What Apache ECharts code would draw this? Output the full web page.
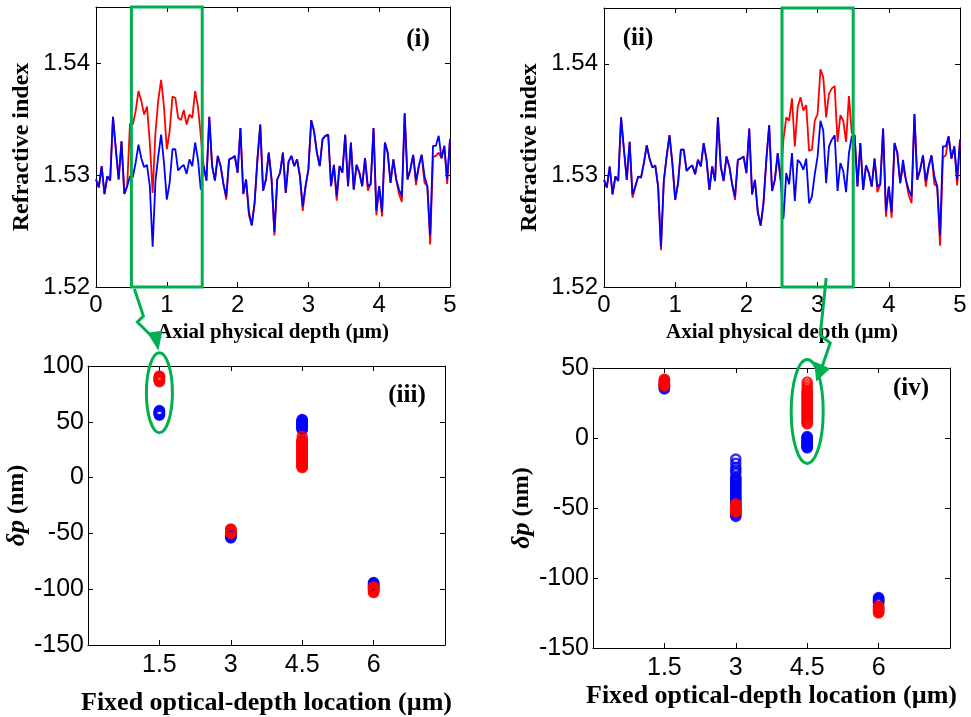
<!DOCTYPE html>
<html><head><meta charset="utf-8">
<script src="https://cdn.jsdelivr.net/npm/echarts@6/dist/echarts.min.js"></script>
<style>html,body{margin:0;padding:0;background:#fff}#c{width:971px;height:717px}</style>
</head><body><div id="c"></div>
<script>
// ---------- DATA ----------
const depthStep = 0.04; // axial depth spacing of samples (µm)
// shared base refractive-index profile (blue curve, k = 0..125)
const baseProfile = [
1.5296,1.5289,1.5308,1.5283,1.5299,1.5295,1.5352,1.5323,1.5296,1.5330,
1.5283,1.5290,1.5299,1.5298,1.5311,1.5327,1.5315,1.5307,1.5309,1.5290,
1.5236,1.5295,1.5317,1.5336,1.5311,1.5278,1.5293,1.5323,1.5323,1.5304,
1.5307,1.5309,1.5301,1.5314,1.5308,1.5329,1.5314,1.5287,1.5308,1.5295,
1.5352,1.5308,1.5295,1.5317,1.5308,1.5292,1.5281,1.5314,1.5315,1.5317,
1.5302,1.5342,1.5283,1.5296,1.5267,1.5255,1.5275,1.5314,1.5345,1.5286,
1.5296,1.5320,1.5296,1.5249,1.5296,1.5302,1.5320,1.5284,1.5312,1.5317,
1.5308,1.5314,1.5299,1.5272,1.5290,1.5305,1.5349,1.5339,1.5320,1.5308,
1.5332,1.5335,1.5336,1.5290,1.5309,1.5281,1.5308,1.5302,1.5336,1.5290,
1.5329,1.5287,1.5309,1.5302,1.5290,1.5315,1.5290,1.5292,1.5342,1.5268,
1.5290,1.5267,1.5329,1.5320,1.5293,1.5314,1.5296,1.5287,1.5281,1.5355,
1.5296,1.5305,1.5318,1.5295,1.5308,1.5318,1.5299,1.5290,1.5246,1.5326,
1.5326,1.5335,1.5315,1.5326,1.5296,1.5332];
// panel (i): red curve inside window, samples k = 12..37
const redIStart = 12;
const redIWindow = [1.5346,1.5345,1.5357,1.5375,1.5366,1.5354,1.5361,1.5329,1.5284,1.5338,
1.5367,1.5385,1.5361,1.5323,1.5339,1.5370,1.5369,1.5351,1.5349,1.5358,1.5345,1.5354,1.5351,1.5375,1.5361,1.5335];
// panel (i): red deviations outside window [k, value]
const redIDips = [[46,1.5278],[54,1.5264],[63,1.5246],[73,1.5268],[85,1.5277],[96,1.5286],[99,1.5264],[101,1.5263],
[107,1.5283],[108,1.5276],[113,1.5291],[116,1.5293],[118,1.5238],[119,1.5316],[120,1.5317],[121,1.5320],[124,1.5292]];
// panel (ii): window samples k = 63..87
const winIIStart = 63;
const blueIIWindow = [1.5261,1.5302,1.5292,1.5320,1.5277,1.5314,1.5311,1.5305,1.5315,1.5275,1.5281,1.5301,1.5317,
1.5349,1.5340,1.5293,1.5326,1.5332,1.5336,1.5286,1.5311,1.5304,1.5285,1.5320,1.5335];
const redIIWindow = [1.5332,1.5352,1.5349,1.5369,1.5326,1.5361,1.5370,1.5358,1.5363,1.5322,1.5323,1.5349,1.5355,
1.5395,1.5388,1.5352,1.5373,1.5378,1.5380,1.5330,1.5354,1.5349,1.5330,1.5371,1.5338];
const redIIDips = [[10,1.5280],[20,1.5233],[46,1.5278],[96,1.5285],[99,1.5263],[101,1.5262],[105,1.5308],[107,1.5282],
[108,1.5275],[113,1.5290],[116,1.5292],[118,1.5237],[119,1.5316],[120,1.5318],[124,1.5291]];

// bottom panels: fixed optical-depth locations and δp values (nm)
const locations = [1.5, 3, 4.5, 6];
const iiiBlue = [[60,59.5,59,58.5,58,57.5,57,56.5,56],[-50,-50.5,-51,-51.5,-52,-52.5,-53,-53.5,-54],
 [52,51.5,51,50.5,50,49.5,49,48.5,48,47.5,47,46.5,46,45.5,45,44.5,44,43.5,43],
 [-94,-94.5,-95,-95.5,-96,-96.5,-97,-97.5,-98,-98.5,-99]];
const iiiRed = [[91,90.5,90,89.5,89,88.5,88,87.5,87,86.5,86],[-46,-46.5,-47,-47.5,-48,-48.5,-49,-49.5,-50],
 [37,34,33.5,33,32.5,32,31.5,31,30.5,30,29.5,29,28.5,28,27.5,27,26.5,26,25.5,25,24.5,24,23.5,23,22.5,22,21.5,21,
  20.5,20,19.5,19,18.5,18,17.5,17,16.5,16,15.5,15,14.5,14,13.5,13,12.5,12,11.5,11,10.5,10,9.5,9],
 [-98,-98.5,-99,-99.5,-100,-100.5,-101,-101.5,-102,-102.5,-103]];
const ivBlue = [[38,37.5,37,36.5,36,35.5,35],
 [-15,-18,-21,-23,-25,-28,-29,-30,-31,-32,-33,-34,-35,-36,-37,-38,-39,-40,-41,-42,-43,-44,-45,-46,-47,-48,-49,-50,-51,-52,-53,-54,-55,-56],
 [1,0.5,0,-0.5,-1,-1.5,-2,-2.5,-3,-3.5,-4,-4.5,-5,-5.5,-6,-6.5,-7],[-114,-114.5,-115,-115.5,-116,-116.5,-117,-117.5,-118]];
const ivRed = [[42,41.5,41,40.5,40,39.5,39,38.5,38,37.5,37],[-47,-47.5,-48,-48.5,-49,-49.5,-50,-50.5,-51,-51.5,-52,-52.5,-53],
 [40,38,36,34,33,32,31,30,29,28,27,26,25,24,23,22,21,20,19,18,17,16,15,14,13,12,11,10],
 [-120,-120.5,-121,-121.5,-122,-122.5,-123,-123.5,-124,-124.5,-125]];

const topXTicks = [0,1,2,3,4,5];
const riTicks = [1.52,1.53,1.54];

// ---------- BUILD ----------
function withWindow(base, start, win, dips){
  const out = base.slice();
  win.forEach((v,i)=>{ out[start+i] = v; });
  (dips||[]).forEach(([k,v])=>{ out[k] = v; });
  return out;
}
const blueI = baseProfile;
const redI = withWindow(baseProfile, redIStart, redIWindow, redIDips);
const blueII = withWindow(baseProfile, winIIStart, blueIIWindow, []);
const redII = withWindow(baseProfile, winIIStart, redIIWindow, redIIDips);
const toPairs = arr => arr.map((v,k)=>[+(k*depthStep).toFixed(2), v]);
function scatterPairs(groups){
  const out=[]; groups.forEach((g,i)=>g.forEach(v=>out.push([locations[i], v]))); return out;
}

const RED='#ff0000', BLUE='#0000ff', GREEN='#00b050';
const SANS="'Liberation Sans', Arial, sans-serif";
const NARROW="'Liberation Sans Narrow','Liberation Sans', Arial, sans-serif";
const SERIF="'Liberation Serif','Times New Roman', serif";

const grids = [
  {left:96, top:7, width:354, height:280},
  {left:604, top:8, width:356, height:279},
  {left:88, top:366, width:357, height:279},
  {left:593, top:368, width:357, height:280}
];

const xAxes=[], yAxes=[];
function addAxes(gi, xc, yc){
  const line={show:true,onZero:false,lineStyle:{color:'#000',width:1}};
  const tick={show:true,inside:true,length:5,lineStyle:{color:'#000',width:1}};
  xAxes.push({gridIndex:gi,type:'value',position:'bottom',min:xc.min,max:xc.max,interval:xc.interval,
    axisLine:line,axisTick:tick,splitLine:{show:false},
    axisLabel:Object.assign({color:'#000',fontFamily:xc.font,fontSize:xc.size,margin:xc.margin,
      showMinLabel:xc.showMin,showMaxLabel:xc.showMax},xc.fmt?{formatter:xc.fmt}:{}),
    name:xc.name,nameLocation:'middle',nameGap:xc.nameGap,
    nameTextStyle:{color:'#000',fontFamily:SERIF,fontWeight:'bold',fontSize:xc.nameSize}});
  xAxes.push({gridIndex:gi,type:'value',position:'top',min:xc.min,max:xc.max,interval:xc.interval,
    axisLine:line,axisTick:tick,splitLine:{show:false},axisLabel:{show:false}});
  yAxes.push({gridIndex:gi,type:'value',position:'left',min:yc.min,max:yc.max,interval:yc.interval,
    axisLine:line,axisTick:tick,splitLine:{show:false},
    axisLabel:Object.assign({color:'#000',fontFamily:yc.font,fontSize:yc.size,margin:yc.margin,
      showMinLabel:true,showMaxLabel:yc.showMax},yc.fmt?{formatter:yc.fmt}:{}),
    name:yc.name,nameLocation:'middle',nameGap:yc.nameGap,nameRotate:90,
    nameTextStyle:Object.assign({color:'#000',fontFamily:SERIF,fontWeight:'bold',fontSize:yc.nameSize},yc.rich?{rich:yc.rich}:{})});
  yAxes.push({gridIndex:gi,type:'value',position:'right',min:yc.min,max:yc.max,interval:yc.interval,
    axisLine:line,axisTick:tick,splitLine:{show:false},axisLabel:{show:false}});
}
const riFmt = v => { const r = Math.round(v*100)/100; return riTicks.some(t=>Math.abs(t-r)<1e-9) && Math.abs(v-r)<1e-9 ? r.toFixed(2) : ''; };
const topX = {min:topXTicks[0],max:topXTicks[topXTicks.length-1],interval:1,font:SANS,size:24,margin:6,showMin:true,showMax:true,
  name:'Axial physical depth (µm)',nameGap:35,nameSize:21};
const topY = {min:1.52,max:1.545,interval:0.01,font:SANS,size:24,margin:6,showMax:false,fmt:riFmt,
  name:'Refractive index',nameGap:62,nameSize:24};
addAxes(0, topX, topY);
addAxes(1, topX, topY);
const dpRich = {a:{fontFamily:SERIF,fontWeight:'bold',fontStyle:'italic',fontSize:26,color:'#000'},
                b:{fontFamily:SERIF,fontWeight:'bold',fontSize:24,color:'#000'}};
addAxes(2, {min:0,max:7.5,interval:1.5,font:NARROW,size:25,margin:8,showMin:false,showMax:false,
  name:'Fixed optical-depth location (µm)',nameGap:45,nameSize:26},
  {min:-150,max:100,interval:50,font:NARROW,size:25,margin:4,showMax:true,
  name:'{a|δp} {b|(nm)}',nameGap:40,nameSize:24,rich:dpRich});
addAxes(3, {min:0,max:7.5,interval:1.5,font:NARROW,size:25,margin:8,showMin:false,showMax:false,
  name:'Fixed optical-depth location (µm)',nameGap:35,nameSize:26},
  {min:-150,max:50,interval:50,font:NARROW,size:25,margin:4,showMax:true,
  name:'{a|δp} {b|(nm)}',nameGap:40,nameSize:24,rich:dpRich});

function lineSeries(gi, data, color){
  return {type:'line',xAxisIndex:gi*2,yAxisIndex:gi*2,data:toPairs(data),showSymbol:false,symbol:'none',
    lineStyle:{color,width:1.8},clip:true,animation:false};
}
function scatterSeries(gi, groups, color){
  return {type:'scatter',xAxisIndex:gi*2,yAxisIndex:gi*2,data:scatterPairs(groups),symbol:'circle',symbolSize:9,
    itemStyle:{color:'rgba(0,0,0,0)',borderColor:color,borderWidth:2.6},animation:false};
}

const chart = echarts.init(document.getElementById('c'), null, {renderer:'canvas'});
chart.setOption({
  backgroundColor:'#fff',
  animation:false,
  grid:grids,
  xAxis:xAxes,
  yAxis:yAxes,
  series:[
    lineSeries(0, redI, RED), lineSeries(0, blueI, BLUE),
    lineSeries(1, redII, RED), lineSeries(1, blueII, BLUE),
    scatterSeries(2, iiiBlue, BLUE), scatterSeries(2, iiiRed, RED),
    scatterSeries(3, ivBlue, BLUE), scatterSeries(3, ivRed, RED)
  ]
});

// ---------- ANNOTATIONS ----------
const P = (gi, pt) => chart.convertToPixel({gridIndex:gi}, pt);
const g = [];
const gs = {stroke:GREEN, lineWidth:3, fill:'none'};
// window rectangles
[[0,0.5,1.5],[1,2.5,3.5]].forEach(([gi,a,b])=>{
  const p1 = P(gi,[a,1.545]), p2 = P(gi,[b,1.52]);
  g.push({type:'rect',shape:{x:p1[0],y:p1[1],width:p2[0]-p1[0],height:p2[1]-p1[1]},style:gs,z:100});
});
// ellipses
const e3 = P(2,[1.5,76]), e4 = P(3,[4.5,19]);
g.push({type:'ellipse',shape:{cx:e3[0],cy:e3[1],rx:13,ry:40},style:gs,z:100});
g.push({type:'ellipse',shape:{cx:e4[0],cy:e4[1],rx:16,ry:52},style:gs,z:100});
// arrows (lightning shaped)
const r1 = P(0,[0.5,1.52]);
const a1 = [[r1[0]+3,r1[1]+2],[r1[0]+12,r1[1]+29],[r1[0]+6,r1[1]+35],[r1[0]+25,r1[1]+54]];
g.push({type:'polyline',shape:{points:a1},style:{stroke:GREEN,lineWidth:3,fill:'none'},z:100});
g.push({type:'polygon',shape:{points:[[e3[0]-1,e3[1]-42],[e3[0]-12,e3[1]-60],[e3[0]+3,e3[1]-62]]},style:{fill:GREEN},z:100});
const r2 = P(1,[3.5,1.52]);
const a2 = [[r2[0]-27,r2[1]-9],[r2[0]-33,r2[1]+48],[r2[0]-23,r2[1]+56],[e4[0]+15,e4[1]-45]];
g.push({type:'polyline',shape:{points:a2},style:{stroke:GREEN,lineWidth:3,fill:'none'},z:100});
g.push({type:'polygon',shape:{points:[[e4[0]+9,e4[1]-30],[e4[0]+7,e4[1]-50],[e4[0]+23,e4[1]-43]]},style:{fill:GREEN},z:100});
// panel labels
const lab = (t,x,y)=>({type:'text',x,y,style:{text:t,fill:'#000',font:"bold 25px 'Liberation Serif', serif",textAlign:'center',textVerticalAlign:'middle'},z:101});
g.push(lab('(i)',418,40), lab('(ii)',638,39), lab('(iii)',407,396), lab('(iv)',911,389));
chart.setOption({graphic:g});
</script>
</body></html>
